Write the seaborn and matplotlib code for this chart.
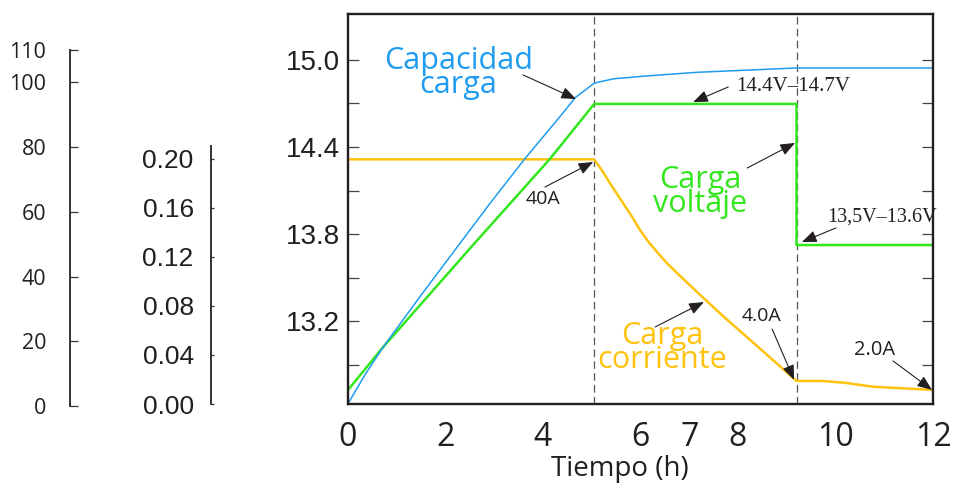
import matplotlib
matplotlib.use("Agg")
import matplotlib.pyplot as plt
import seaborn as sns
import pandas as pd
from matplotlib.ticker import FixedLocator, FormatStrFormatter

# ---- data (hours, volts on the main scale) ----
T_BULK_END = 5.05
T_ABS_END = 9.2

cap_t = [0, 0.35, 0.72, 1.48, 2.15, 2.91, 3.63, 4.35, 4.66, 5.05, 5.44, 6.13, 7.16, 8.19, 9.2, 12]
cap_v = [12.63, 12.83, 13.02, 13.37, 13.67, 14.01, 14.32, 14.61, 14.74, 14.84, 14.87, 14.89, 14.915, 14.93, 14.945, 14.945]

volt_t = [0, 0.72, 2.5, 4.14, 5.05, 9.2, 9.2, 12]
volt_v = [12.725, 13.02, 13.70, 14.317, 14.697, 14.697, 13.724, 13.724]

amp_t = [0, 5.05, 5.23, 5.37, 5.64, 5.83, 5.99, 6.15, 6.34, 6.54, 6.75, 7.16, 7.69, 8.39, 9.2,
         9.72, 10.2, 10.77, 12]
amp_v = [14.315, 14.315, 14.228, 14.152, 14.014, 13.917, 13.828, 13.752, 13.676, 13.60, 13.531,
         13.40, 13.235, 13.028, 12.787, 12.787, 12.774, 12.747, 12.725]

x_ticks = [0, 2, 4, 6, 7, 8, 10, 12]
x_minor = [2, 4, 6, 8, 10]
y_major = [13.2, 13.8, 14.4, 15.0]
y_minor = [12.9, 13.5, 14.1, 14.7]

pct_ticks = [0, 20, 40, 60, 80, 100, 110]
c_ticks = [0.00, 0.04, 0.08, 0.12, 0.16, 0.20]

BLUE = "#1f9cf0"
GREEN = "#33e61e"
YELLOW = "#ffc20e"
INK = "#231f20"

sns.set_theme(style="white")
plt.rcParams["font.family"] = ["Open Sans", "DejaVu Sans"]

fig = plt.figure(figsize=(9.55, 4.83), dpi=100)
W, H = 955, 483

def px_axes(x0, y0, x1, y1):
    return fig.add_axes([x0 / W, 1 - y1 / H, (x1 - x0) / W, (y1 - y0) / H])

# ---- main chart ----
ax = px_axes(348, 14, 933, 404)

cap = pd.DataFrame({"t": cap_t, "v": cap_v})
volt = pd.DataFrame({"t": volt_t, "v": volt_v})
amp = pd.DataFrame({"t": amp_t, "v": amp_v})

sns.lineplot(data=amp, x="t", y="v", sort=False, estimator=None, color=YELLOW, lw=1.8, ax=ax)
sns.lineplot(data=volt, x="t", y="v", sort=False, estimator=None, color=GREEN, lw=1.8, ax=ax)
sns.lineplot(data=cap, x="t", y="v", sort=False, estimator=None, color=BLUE, lw=1.1, ax=ax)

for t in (T_BULK_END, T_ABS_END):
    ax.axvline(t, color="#555555", lw=0.9, ls=(0, (6, 3.5)), zorder=1)

ax.set_xlim(0, 12)
ax.set_ylim(12.628, 15.317)

for s in ax.spines.values():
    s.set_color(INK)
    s.set_linewidth(1.7)

ax.xaxis.set_major_locator(FixedLocator(x_ticks))
ax.xaxis.set_minor_locator(FixedLocator(x_minor))
ax.tick_params(axis="x", which="major", length=0, pad=12, labelsize=23, labelcolor=INK)
ax.tick_params(axis="x", which="minor", direction="in", length=6, width=0.9, color="#444444", bottom=True)

ax.yaxis.set_major_locator(FixedLocator(y_major))
ax.yaxis.set_minor_locator(FixedLocator(y_minor))
ax.yaxis.set_major_formatter(FormatStrFormatter("%.1f"))
ax.tick_params(axis="y", which="both", direction="in", length=8, width=0.9, color="#444444",
               left=True, right=True, pad=6)
ax.tick_params(axis="y", which="major", labelsize=20, labelcolor=INK)
for lab in ax.get_yticklabels():
    lab.set_family(["Liberation Sans", "DejaVu Sans"])

ax.set_xlabel("Tiempo (h)", fontsize=20, color=INK)
ax.set_ylabel("")
ax.xaxis.set_label_coords(0.465, -0.1846)
ax.xaxis.label.set_verticalalignment("baseline")

# ---- labels (y is the baseline of the last line) ----
def label(x, y, s, color, size, ha="center", family=None):
    kw = {}
    if family:
        kw["family"] = family
    ax.text(x, y, s, color=color, fontsize=size, ha=ha, va="baseline",
            multialignment="center", linespacing=0.74, **kw)

label(2.26, 14.772, "Capacidad\ncarga", BLUE, 22)
label(7.23, 13.954, "Carga\nvoltaje", GREEN, 22)
label(6.45, 12.876, "Carga\ncorriente", YELLOW, 22)
label(4.0, 14.007, "40A", INK, 14)
label(8.48, 13.202, "4.0A", INK, 14)
label(10.81, 12.966, "2.0A", INK, 14.5)
label(7.96, 14.788, "14.4V\u201314.7V", INK, 15, ha="left", family=["Liberation Serif", "DejaVu Serif"])
label(9.83, 13.885, "13,5V\u201313.6V", INK, 14.5, ha="left", family=["Liberation Serif", "DejaVu Serif"])

arrows = [
    ((3.59, 14.897), (4.677, 14.731)),
    ((4.04, 14.124), (5.03, 14.297)),
    ((7.80, 14.814), (7.08, 14.710)),
    ((8.19, 14.255), (9.17, 14.428)),
    ((10.01, 13.842), (9.31, 13.745)),
    ((6.30, 13.159), (7.30, 13.331)),
    ((8.70, 13.145), (9.15, 12.794)),
    ((11.18, 12.925), (11.98, 12.725)),
]
for tail, tip in arrows:
    ax.annotate("", xy=tip, xytext=tail,
                arrowprops=dict(arrowstyle="-|>,head_length=0.75,head_width=0.3",
                                color=INK, lw=0.8, shrinkA=0, shrinkB=0, mutation_scale=12))

# ---- decorative side scales ----
def side_scale(axs, ticks, lim, fmt, tick_len, pad, size):
    axs.set_ylim(*lim)
    axs.set_xticks([])
    for k in ("top", "right", "bottom"):
        axs.spines[k].set_visible(False)
    axs.spines["left"].set_color("#333333")
    axs.spines["left"].set_linewidth(1.4)
    axs.yaxis.set_major_locator(FixedLocator(ticks))
    axs.yaxis.set_major_formatter(FormatStrFormatter(fmt))
    axs.tick_params(axis="y", direction="in", length=tick_len, width=0.9, color="#333333",
                    pad=pad, labelsize=size, labelcolor=INK, left=True)
    axs.patch.set_alpha(0)

ax_pct = px_axes(70, 50, 71, 406)
side_scale(ax_pct, pct_ticks, (0, 110), "%d", 6, 17, 15.5)

ax_c = px_axes(211, 146, 212, 404)
side_scale(ax_c, c_ticks, (0, 0.2106), "%.2f", 2.5, 12.5, 19)
for lab in ax_c.get_yticklabels():
    lab.set_family(["Liberation Sans", "DejaVu Sans"])

fig.savefig("out.png", dpi=100)
